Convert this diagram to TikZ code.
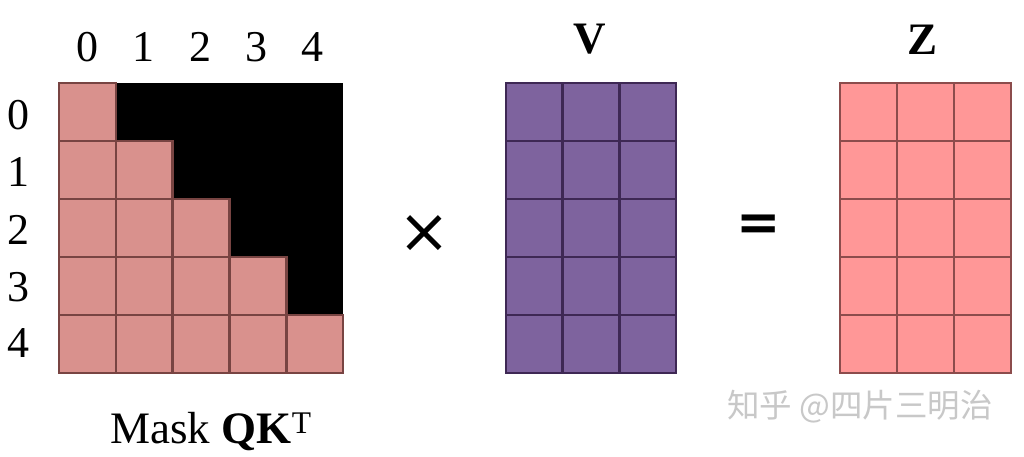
\documentclass[tikz,border=0pt]{standalone}
\usepackage{fontspec}
\setmainfont{Liberation Serif}
\newfontfamily\cjkfont{Noto Sans CJK SC}
\newfontfamily\symfont{DejaVu Sans}
\newfontfamily\symboldfont{DejaVu Sans Bold}
\definecolor{maskpink}{RGB}{217,145,141}
\definecolor{maskline}{RGB}{120,68,66}
\definecolor{vpurple}{RGB}{126,99,158}
\definecolor{vline}{RGB}{62,40,84}
\definecolor{zpink}{RGB}{255,151,151}
\definecolor{zline}{RGB}{140,76,76}
\definecolor{wmgray}{RGB}{200,200,200}
\tikzset{
  idx/.style={inner sep=0pt, font=\fontsize{44}{48}\selectfont},
  matlabel/.style={inner sep=0pt, font=\fontsize{45}{50}\selectfont\bfseries},
  opsign/.style={inner sep=0pt},
  gridline/.style={line width=2.6pt, line cap=rect},
}
\begin{document}
\begin{tikzpicture}[x=1pt,y=-1pt]
\useasboundingbox (0,0) rectangle (1024,456);
\fill[white] (0,0) rectangle (1024,456);
% ---------- Mask QK^T ----------
\def\mw{56.8}\def\mh{58}
\fill[black] (59,83) rectangle (343,373);
\foreach \i in {0,...,4}{
  \foreach \j in {0,...,\i}{
    \filldraw[fill=maskpink, draw=maskline, line width=2.6pt]
      ({59+\j*\mw},{83+\i*\mh}) rectangle ++(\mw,\mh);
  }
}
% column indices
\foreach \k/\x in {0/87.5,1/143,2/200.5,3/256,4/312.5}{
  \node[idx] (col\k) at (\x,47) {\k};
}
% row indices
\foreach \k/\y in {0/115,1/172,2/230,3/287,4/343}{
  \node[idx] (row\k) at (19,\y) {\k};
}
\node[inner sep=0pt, anchor=base, font=\fontsize{45}{50}\selectfont] (masklabel) at (211,443)
  {Mask \textbf{QK}\textsuperscript{T}};
% ---------- V ----------
\def\vw{56.67}
\fill[vpurple] (506,83) rectangle (676,373);
\foreach \j in {0,...,3}{
  \draw[gridline, vline] ({506+\j*\vw},83) -- ({506+\j*\vw},373);
}
\foreach \i in {0,...,5}{
  \draw[gridline, vline] (506,{83+\i*\mh}) -- (676,{83+\i*\mh});
}
\node[matlabel] (vlabel) at (590,39) {V};
% ---------- Z ----------
\def\zw{57}
\fill[zpink] (840,83) rectangle (1011,373);
\foreach \j in {0,...,3}{
  \draw[gridline, zline] ({840+\j*\zw},83) -- ({840+\j*\zw},373);
}
\foreach \i in {0,...,5}{
  \draw[gridline, zline] (840,{83+\i*\mh}) -- (1011,{83+\i*\mh});
}
\node[matlabel] (zlabel) at (922,40) {Z};
% ---------- operators ----------
\node[opsign, font=\symfont\fontsize{62}{64}\selectfont] (times) at (424,234) {×};
\node[opsign, font=\symboldfont\fontsize{53}{56}\selectfont] (equals) at (759,228) {=};
% ---------- watermark ----------
\node[inner sep=0pt, text=wmgray, font=\cjkfont\fontsize{32.5}{36}\selectfont] (wm) at (860,407) {知乎 @四片三明治};
\end{tikzpicture}
\end{document}
